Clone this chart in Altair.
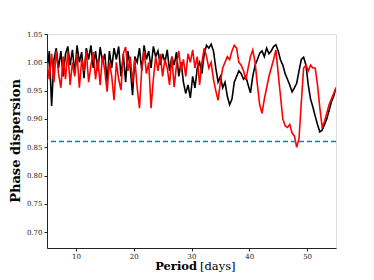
import altair as alt
import pandas as pd

# Period grid (days)
periods = [round(5 + 0.4 * i, 1) for i in range(126)]

black_vals = [
    0.985, 1.02, 0.923, 1.005, 1.025, 0.99, 1.02, 0.975, 1.015, 1.028,
    0.995, 1.022, 0.98, 1.03, 1.0, 1.018, 0.972, 1.025, 1.005, 1.03,
    0.99, 1.02, 0.985, 1.027, 1.0, 1.015, 0.965, 1.02, 0.99, 1.025,
    1.005, 1.028, 0.975, 1.015, 0.965, 1.02, 0.99, 0.942, 1.01, 1.0,
    1.025, 0.985, 1.03, 1.005, 1.02, 0.99, 1.028, 1.01, 1.02, 0.995,
    1.015, 1.0, 1.022, 0.985, 1.01, 0.995, 1.018, 0.975, 1.0, 0.965,
    0.945, 0.96, 0.937, 0.975, 0.955, 0.99, 1.0, 0.98, 1.015, 1.03,
    1.025, 1.032, 1.02, 0.99, 0.965, 0.975, 0.955, 0.965, 0.94, 0.925,
    0.935, 0.965, 0.975, 0.985, 0.98, 0.97, 0.975, 0.96, 0.946, 0.975,
    0.995, 1.005, 1.016, 1.02, 1.01, 1.025, 1.015, 1.02, 1.028, 1.031,
    1.02, 1.004, 0.995, 0.98, 0.97, 0.96, 0.948, 0.955, 0.963, 0.985,
    1.005, 1.009, 0.995, 0.96, 0.935, 0.921, 0.905, 0.89, 0.877, 0.88,
    0.89, 0.9, 0.915, 0.93, 0.94, 0.955,
]

red_vals = [
    1.0, 0.97, 1.015, 0.965, 1.02, 0.98, 0.955, 1.01, 0.97, 1.02,
    0.96, 1.0, 0.975, 1.015, 0.955, 1.005, 0.985, 1.02, 0.965, 0.995,
    1.018, 0.97, 1.005, 0.96, 1.012, 0.985, 0.948, 1.0, 0.975, 0.933,
    1.0, 0.97, 0.951, 1.015, 1.027, 0.985, 1.01, 0.965, 1.005, 0.955,
    0.919, 0.99, 1.02, 0.98, 1.0, 0.919, 0.97, 1.01, 0.985, 1.015,
    0.975, 1.005, 0.99, 0.96, 1.01, 0.956, 0.995, 1.02, 0.985, 1.005,
    0.975, 1.015, 1.0, 1.022, 0.99, 1.01, 0.96, 1.0, 1.025, 1.01,
    0.99, 1.0, 0.97, 0.95, 0.933, 0.965, 0.99, 1.0, 1.01, 1.005,
    1.02, 1.03, 1.025, 1.0, 0.995, 0.985, 0.969, 0.99, 1.01, 1.022,
    1.0, 0.96, 0.925, 0.91, 0.935, 0.955, 0.975, 0.99, 1.005, 1.022,
    0.98, 0.94, 0.9, 0.888, 0.885, 0.89, 0.875, 0.87, 0.85, 0.865,
    0.93, 0.99, 0.995, 0.985, 0.995, 0.99, 0.99, 0.96, 0.92, 0.886,
    0.895, 0.91, 0.925, 0.935, 0.945, 0.955,
]

threshold = 0.86

x_ticks = [10, 20, 30, 40, 50]
y_ticks = [0.70, 0.75, 0.80, 0.85, 0.90, 0.95, 1.00, 1.05]

df = pd.DataFrame({
    "period": periods * 2,
    "disp": black_vals + red_vals,
    "series": ["black"] * len(periods) + ["red"] * len(periods),
})

FONT = "DejaVu Serif"

xscale = alt.Scale(domain=[5, 55], nice=False, zero=False)
yscale = alt.Scale(domain=[0.672, 1.05], nice=False, zero=False)

x_axis = alt.Axis(values=x_ticks, format="d", title=None, grid=False, labelOverlap=False,
                  labelFont=FONT, labelFontSize=7, labelColor="#222",
                  tickSize=3, tickColor="#222", domainColor="#222", labelPadding=1)
y_axis = alt.Axis(values=y_ticks, format=".2f", title=None, grid=False, labelOverlap=False,
                  labelFont=FONT, labelFontSize=7, labelColor="#222",
                  tickSize=3, tickColor="#222", domainColor="#222", labelPadding=2)

lines = alt.Chart(df).mark_line(strokeWidth=1.6, clip=True).encode(
    x=alt.X("period:Q", scale=xscale, axis=x_axis),
    y=alt.Y("disp:Q", scale=yscale, axis=y_axis),
    color=alt.Color("series:N", scale=alt.Scale(domain=["black", "red"], range=["#000000", "#ff0000"]), legend=None),
    detail="series:N",
)

rule = alt.Chart(pd.DataFrame({"t": [threshold]})).mark_rule(
    color="#1f77b4", strokeDash=[5, 3], strokeWidth=1.4
).encode(y=alt.Y("t:Q", scale=yscale, axis=y_axis))

title_x1 = alt.Chart(pd.DataFrame({"t": ["Period"]})).mark_text(
    font=FONT, fontSize=11.5, fontWeight="bold", align="right", baseline="alphabetic", color="#000"
).encode(text="t:N", x=alt.value(150), y=alt.value(236))

title_x2 = alt.Chart(pd.DataFrame({"t": ["[days]"]})).mark_text(
    font=FONT, fontSize=11.5, fontWeight="normal", align="left", baseline="alphabetic", color="#000"
).encode(text="t:N", x=alt.value(153), y=alt.value(236))

title_y = alt.Chart(pd.DataFrame({"t": ["Phase dispersion"]})).mark_text(
    font=FONT, fontSize=13, fontWeight="bold", align="center", baseline="middle", angle=270, color="#000"
).encode(text="t:N", x=alt.value(-31), y=alt.value(107))

chart = alt.layer(lines, rule, title_x1, title_x2, title_y).properties(
    width=289, height=214,
    autosize=alt.AutoSizeParams(type="none"),
    padding={"left": 39, "top": 26, "right": 30, "bottom": 24},
).configure_view(stroke="#222", strokeWidth=1).configure(background="white")

chart.save("out.html", embed_options={"renderer": "svg", "actions": False})
